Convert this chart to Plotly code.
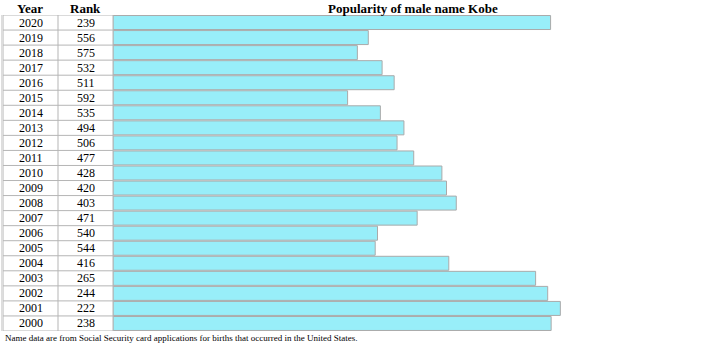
import plotly.graph_objects as go

years = [2020, 2019, 2018, 2017, 2016, 2015, 2014, 2013, 2012, 2011, 2010,
         2009, 2008, 2007, 2006, 2005, 2004, 2003, 2002, 2001, 2000]
ranks = [239, 556, 575, 532, 511, 592, 535, 494, 506, 477, 428,
         420, 403, 471, 540, 544, 416, 265, 244, 222, 238]
rank_ceiling = 1000

title = "Popularity of male name Kobe"
footnote = "Name data are from Social Security card applications for births that occurred in the United States."

W, H = 720, 350
L, R, T, B = 113, 32, 15, 19
PW = W - L - R
PH = H - T - B

def px(p):
    return (p - L) / PW

def py(p):
    return 1 - (p - T) / PH

n = len(years)
rows = list(range(n))
popularity = [rank_ceiling - r for r in ranks]

fig = go.Figure(go.Bar(
    x=popularity, y=rows, orientation="h",
    marker=dict(color="#98EEF9", line=dict(color="#aaaaaa", width=1)),
    width=0.93, hoverinfo="skip",
))

shapes = []
grid = "#b5b5b5"
x_left, x_mid = px(3), px(58)
for i in range(n + 1):
    shapes.append(dict(type="line", xref="paper", yref="y", x0=x_left, x1=0,
                       y0=i - 0.5, y1=i - 0.5, line=dict(color=grid, width=1)))
for xp in (x_left, x_mid, 0):
    shapes.append(dict(type="line", xref="paper", yref="y", x0=xp, x1=xp,
                       y0=-0.5, y1=n - 0.5, line=dict(color=grid, width=1)))
shapes.append(dict(type="line", xref="paper", yref="y", x0=px(2), x1=px(2),
                   y0=-0.5, y1=n - 0.5, line=dict(color="#dddddd", width=2)))

ann = []
font = dict(family="Liberation Serif", size=12, color="black")
for i, (yr, rk) in enumerate(zip(years, ranks)):
    ann.append(dict(x=px(30.5), y=i, xref="paper", yref="y", text=str(yr),
                    xanchor="center", yanchor="middle", showarrow=False, font=font))
    ann.append(dict(x=px(85.5), y=i, xref="paper", yref="y", text=str(rk),
                    xanchor="center", yanchor="middle", showarrow=False, font=font))
bold = dict(family="Liberation Serif", size=13, color="black")
for xc, txt in ((30, "Year"), (85, "Rank"), (413, title)):
    ann.append(dict(x=px(xc), y=py(8), xref="paper", yref="paper", text=f"<b>{txt}</b>",
                    xanchor="center", yanchor="middle", showarrow=False, font=bold))
ann.append(dict(x=px(3), y=py(338), xref="paper", yref="paper", text=footnote,
                xanchor="left", yanchor="middle", showarrow=False,
                font=dict(family="Liberation Serif", size=9, color="black")))

fig.update_layout(
    width=W, height=H, margin=dict(l=L, r=R, t=T, b=B),
    paper_bgcolor="white", plot_bgcolor="white",
    xaxis=dict(range=[0, rank_ceiling], visible=False, fixedrange=True),
    yaxis=dict(range=[n - 0.5, -0.5], visible=False, fixedrange=True),
    shapes=shapes, annotations=ann, showlegend=False,
)
fig.write_html("out.html", config={"displayModeBar": False})
